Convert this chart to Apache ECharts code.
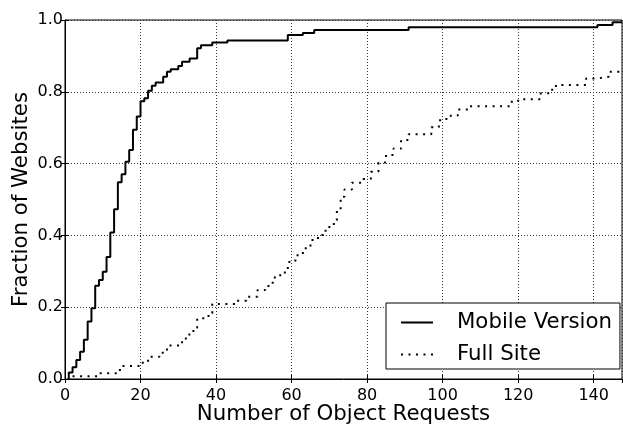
<!DOCTYPE html>
<html>
<head>
<meta charset="utf-8">
<script src="https://cdn.jsdelivr.net/npm/echarts@6/dist/echarts.min.js"></script>
<style>
  html, body { margin: 0; padding: 0; background: #fff; }
  #main { width: 623px; height: 424px; }
</style>
</head>
<body>
<div id="main"></div>
<script>
// CDF data: [requests where the step happens, fraction after the step]
var mobileX = [1, 1, 2, 3, 4, 5, 6, 7, 8, 9, 10, 11, 12, 13, 14, 15, 16, 17, 18, 19, 20,
  21, 22, 23, 24, 26, 27, 28, 30, 31, 33, 35, 36, 39, 43, 59, 63, 66, 91, 141, 145, 147.5];
var mobileY = [0, 0.018, 0.033, 0.053, 0.076, 0.109, 0.16, 0.197, 0.26, 0.276, 0.299, 0.34,
  0.408, 0.473, 0.548, 0.57, 0.605, 0.638, 0.694, 0.731, 0.774, 0.782, 0.803, 0.817, 0.826,
  0.842, 0.856, 0.863, 0.872, 0.884, 0.893, 0.921, 0.93, 0.937, 0.943, 0.958, 0.964, 0.972,
  0.98, 0.986, 0.994, 0.994];

var fullX = [2, 9, 14, 15, 20, 22, 25, 27, 31, 32, 34, 35, 38, 39, 45, 48, 51, 53, 55, 57,
  59, 61, 63, 65, 67, 69, 70, 72, 73, 74, 76, 79, 81, 83, 85, 87, 89, 91, 97, 99, 101, 104,
  107, 118, 120, 126, 129, 130, 138, 141, 144, 147.5];
var fullY = [0.008, 0.016, 0.025, 0.036, 0.045, 0.062, 0.073, 0.093, 0.109, 0.124, 0.143,
  0.169, 0.183, 0.209, 0.218, 0.229, 0.248, 0.259, 0.283, 0.297, 0.326, 0.345, 0.364, 0.387,
  0.401, 0.417, 0.432, 0.469, 0.508, 0.528, 0.547, 0.557, 0.577, 0.603, 0.624, 0.642, 0.666,
  0.682, 0.701, 0.721, 0.733, 0.751, 0.76, 0.772, 0.779, 0.796, 0.81, 0.819, 0.837, 0.842,
  0.856, 0.856];

var xTicks = [0, 20, 40, 60, 80, 100, 120, 140];
var yTicks = [0.0, 0.2, 0.4, 0.6, 0.8, 1.0];
var seriesNames = ['Mobile Version', 'Full Site'];

function pairs(xs, ys) {
  return xs.map(function (x, i) { return [x, ys[i]]; });
}

var font = 'DejaVu Sans';
var gridLine = { show: true, lineStyle: { color: '#333', width: 1, type: [1, 2] } };
var tickIn = { show: true, inside: true, length: 4, lineStyle: { color: '#000' } };

var chart = echarts.init(document.getElementById('main'));

chart.setOption({
  animation: false,
  backgroundColor: '#fff',
  grid: {
    left: 65, right: 1, top: 20, bottom: 45,
    outerBoundsMode: 'none', containLabel: false,
    show: true, borderColor: '#000', borderWidth: 1, backgroundColor: 'transparent'
  },
  legend: {
    orient: 'vertical',
    left: 386, top: 303,
    data: seriesNames,
    itemWidth: 32, itemHeight: 20, itemGap: 11,
    padding: [9, 8, 4, 14],
    borderColor: '#000', borderWidth: 1, backgroundColor: '#fff',
    itemStyle: { opacity: 0 },
    textStyle: { fontFamily: font, fontSize: 21.3, color: '#000', padding: [0, 0, 0, 19] }
  },
  xAxis: [{
    type: 'value', min: 0, max: 147.5, interval: 20,
    name: 'Number of Object Requests', nameLocation: 'middle', nameGap: 25,
    nameMoveOverlap: false,
    nameTextStyle: { fontFamily: font, fontSize: 21.3, color: '#000' },
    axisLine: { show: true, lineStyle: { color: '#000', width: 1 } },
    axisTick: tickIn,
    axisLabel: {
      fontFamily: font, fontSize: 16, color: '#000', margin: 9, showMaxLabel: false,
      formatter: function (v) { return xTicks.indexOf(v) >= 0 ? String(v) : ''; }
    },
    splitLine: gridLine
  }, {
    type: 'value', min: 0, max: 147.5, interval: 20, position: 'top',
    axisLine: { show: false }, axisTick: tickIn, axisLabel: { show: false },
    splitLine: { show: false }
  }],
  yAxis: [{
    type: 'value', min: 0, max: 1, interval: 0.2,
    name: 'Fraction of Websites', nameLocation: 'middle', nameGap: 33,
    nameMoveOverlap: false,
    nameTextStyle: { fontFamily: font, fontSize: 21.3, color: '#000' },
    axisLine: { show: true, lineStyle: { color: '#000', width: 1 } },
    axisTick: tickIn,
    axisLabel: {
      fontFamily: font, fontSize: 16, color: '#000', margin: 2,
      formatter: function (v) { return v.toFixed(1); }
    },
    splitLine: gridLine
  }, {
    type: 'value', min: 0, max: 1, interval: 0.2, position: 'right',
    axisLine: { show: false }, axisTick: tickIn, axisLabel: { show: false },
    splitLine: { show: false }
  }],
  series: [{
    name: seriesNames[0], type: 'line', step: 'end', symbol: 'none',
    data: pairs(mobileX, mobileY),
    lineStyle: { color: '#000', width: 2 },
    itemStyle: { color: '#000' }
  }, {
    name: seriesNames[1], type: 'line', step: 'end', symbol: 'none',
    data: pairs(fullX, fullY),
    lineStyle: { color: '#000', width: 2, type: [2, 5.5] },
    itemStyle: { color: '#000' }
  }]
});
</script>
</body>
</html>
